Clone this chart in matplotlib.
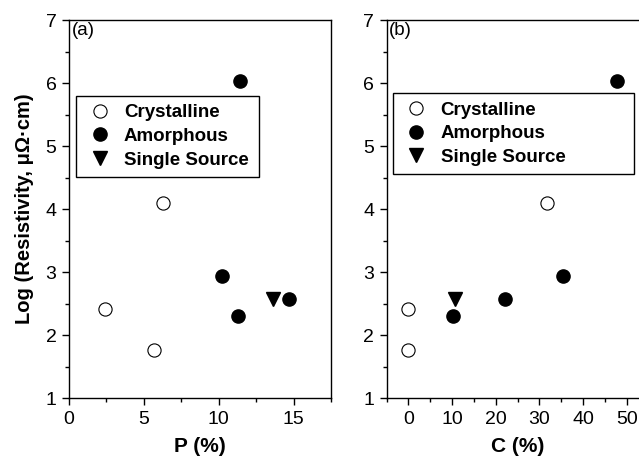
import matplotlib.pyplot as plt
from matplotlib.ticker import MultipleLocator

plt.rcParams["font.family"] = ["Liberation Sans", "DejaVu Sans"]

# === DATA ===
# panel (a): P (%)
p_cryst_x = [2.4, 5.7, 6.3]
p_cryst_y = [2.42, 1.77, 4.10]
p_amor_x = [10.2, 11.3, 11.4, 14.7]
p_amor_y = [2.93, 2.31, 6.04, 2.57]
p_single_x = [13.6]
p_single_y = [2.57]

# panel (b): C (%)
c_cryst_x = [0.0, 0.0, 31.8]
c_cryst_y = [2.42, 1.77, 4.10]
c_amor_x = [10.3, 22.2, 35.5, 47.7]
c_amor_y = [2.31, 2.57, 2.93, 6.04]
c_single_x = [10.7]
c_single_y = [2.57]

labels = ["Crystalline", "Amorphous", "Single Source"]


def draw_panel(ax, cx, cy, ax_, ay, sx, sy, tag, xlabel):
    ax.plot(cx, cy, "o", ms=9.5, mfc="white", mec="black", mew=0.8,
            label=labels[0])
    ax.plot(ax_, ay, "o", ms=9.5, mfc="black", mec="black", label=labels[1])
    ax.plot(sx, sy, "v", ms=10, mfc="black", mec="black", label=labels[2])
    ax.set_ylim(1, 7)
    ax.yaxis.set_major_locator(MultipleLocator(1))
    ax.yaxis.set_minor_locator(MultipleLocator(0.5))
    ax.tick_params(which="major", direction="out", length=5, width=1,
                   labelsize=14, pad=4)
    ax.tick_params(which="minor", direction="out", length=3, width=1)
    for s in ax.spines.values():
        s.set_linewidth(1)
    ax.set_xlabel(xlabel, fontsize=15, fontweight="bold", labelpad=6.5)
    ax.text(0.01, 0.995, tag, transform=ax.transAxes, fontsize=13.5,
            va="top", ha="left")


fig = plt.figure(figsize=(6.39, 4.58), dpi=100)
ax1 = fig.add_axes([0.108, 0.131, 0.410, 0.825])
ax2 = fig.add_axes([0.605, 0.131, 0.410, 0.825])

draw_panel(ax1, p_cryst_x, p_cryst_y, p_amor_x, p_amor_y,
           p_single_x, p_single_y, "(a)", "P (%)")
ax1.set_xlim(0, 17.5)
ax1.xaxis.set_major_locator(MultipleLocator(5))
ax1.xaxis.set_minor_locator(MultipleLocator(2.5))
ax1.set_ylabel("Log (Resistivity, \u03bc\u03a9\u00b7cm)", fontsize=14.5,
               fontweight="bold", labelpad=8)

draw_panel(ax2, c_cryst_x, c_cryst_y, c_amor_x, c_amor_y,
           c_single_x, c_single_y, "(b)", "C (%)")
ax2.set_xlim(-5, 55)
ax2.xaxis.set_major_locator(MultipleLocator(10))
ax2.xaxis.set_minor_locator(MultipleLocator(5))

# legend boxes: (x0, y_top, width) in axes fraction
for ax, (x0, ytop, w) in [(ax1, (0.027, 0.80, 0.698)),
                          (ax2, (0.024, 0.807, 0.919))]:
    leg = ax.legend(loc="upper left", bbox_to_anchor=(x0, ytop - 0.3, w, 0.3),
                    mode="expand", fancybox=False,
                    edgecolor="black", framealpha=1, borderpad=0.45,
                    handletextpad=0.5, labelspacing=0.35, borderaxespad=0,
                    handlelength=1.6,
                    prop={"size": 13.5, "weight": "bold"})
    leg.get_frame().set_linewidth(1)

fig.savefig("out.png", dpi=100)
